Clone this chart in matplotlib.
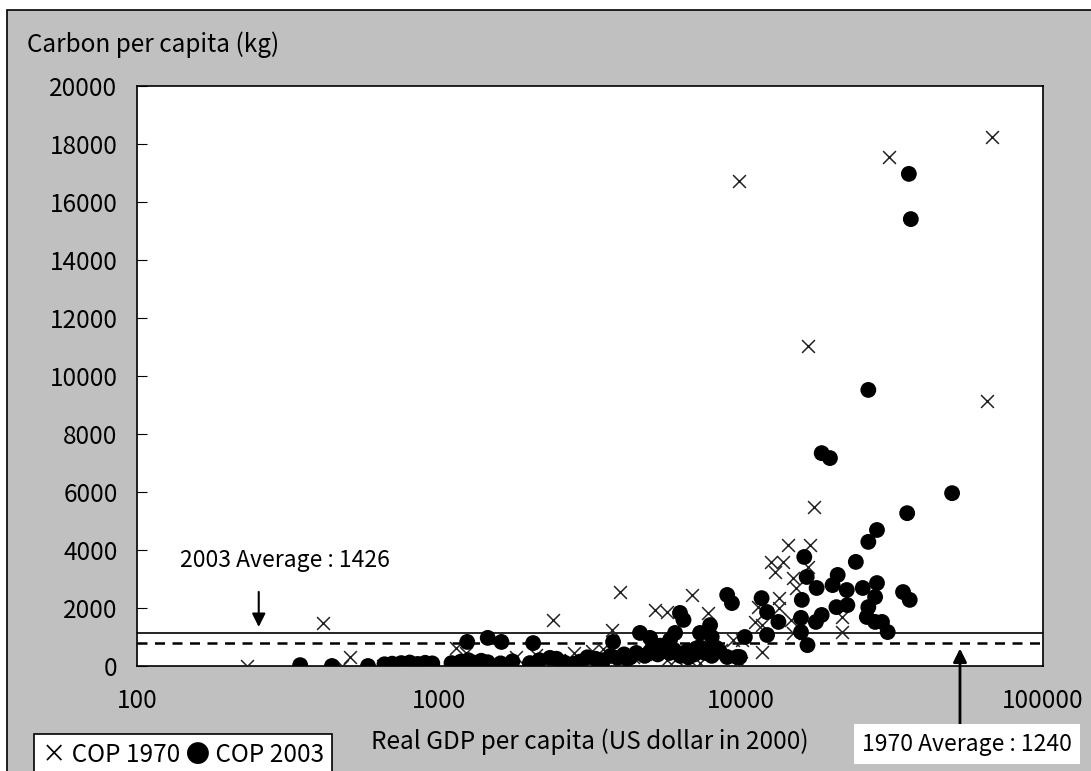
import matplotlib
matplotlib.use('Agg')
import matplotlib.pyplot as plt
from matplotlib.patches import Rectangle

plt.rcParams['font.family'] = ['Noto Sans CJK JP', 'DejaVu Sans']

# COP 1970 (x: real GDP per capita, y: carbon per capita)
gdp_1970 = [231, 413, 477, 507, 653, 1140, 1230, 2380, 3975, 3740, 5200, 5700, 6880,
            7800, 9400, 9840, 16700, 30900, 67800, 65300, 17460, 16900, 14300, 12600,
            13800, 13000, 14900, 16700, 15200, 11400, 13400, 11100, 11700, 14600, 14900,
            21600, 21600, 11700, 13400, 10000, 1800, 2500, 2800, 3200, 4400, 5700, 6800,
            9700, 8000, 10100, 1500, 2100, 3500, 4800, 6100, 7300, 8600, 900, 760]
cop_1970 = [0, 1480, 0, 310, 0, 620, 450, 1590, 2550, 1240, 1930, 1860, 2450,
            1830, 900, 16720, 11030, 17550, 18240, 9140, 5480, 4170, 4170, 3590,
            3590, 3240, 3030, 3410, 2690, 2030, 2340, 1520, 1410, 1590, 1140,
            1690, 1170, 480, 2000, 100, 300, 200, 450, 520, 300, 200, 200,
            0, 700, 900, 150, 380, 600, 420, 250, 100, 550, 80, 120]

# COP 2003
gdp_2003 = [35960, 36500, 26400, 18500, 19700, 50000, 35500, 28200, 26400, 24000,
            16200, 16500, 17800, 20900, 20100, 22400, 25300, 28200, 27800, 26400,
            34400, 36200, 11700, 12200, 13300, 15900, 15800, 18500, 17700, 20700,
            22500, 26100, 27800, 29300, 30600, 15800, 16600, 12200, 10300, 9900,
            9000, 9330, 7900, 6280, 6450, 4630, 5000, 6050, 7316, 8000,
            5820, 7600, 8300, 9000, 9700, 3770, 1240, 1450, 1610, 2050,
            347, 442, 582, 660, 700, 750, 800, 850, 900, 950,
            1100, 1180, 1250, 1300, 1380, 1450, 1600, 1750, 2000, 2150,
            2330, 2450, 2600, 2800, 2930, 3100, 3300, 3500, 3700, 3900,
            4100, 4300, 4500, 4800, 5000, 5300, 5500, 5800, 6000, 6300,
            6600, 7000, 7300, 7600, 8000, 8500, 4200, 5400, 6700, 7100]
cop_2003 = [16970, 15410, 9520, 7340, 7170, 5960, 5270, 4690, 4280, 3590,
            3760, 3070, 2690, 3140, 2790, 2620, 2690, 2860, 2380, 2030,
            2550, 2280, 2340, 1860, 1520, 2280, 1660, 1760, 1520, 2030,
            2100, 1690, 1520, 1520, 1170, 1170, 720, 1070, 1000, 310,
            2450, 2170, 1410, 1830, 1590, 1140, 970, 1140, 1140, 1000,
            900, 550, 620, 310, 310, 830, 830, 970, 830, 790,
            30, 0, 0, 60, 80, 100, 120, 70, 110, 90,
            100, 150, 200, 120, 180, 130, 90, 160, 100, 200,
            280, 250, 120, 80, 150, 300, 250, 200, 350, 280,
            400, 300, 450, 350, 500, 400, 600, 450, 550, 350,
            500, 400, 650, 450, 350, 500, 250, 700, 300, 600]

avg_2003_line = 1150
avg_1970_line = 800

fig = plt.figure(figsize=(10.91, 7.71), dpi=100)
fig.patch.set_facecolor('white')
fig.patches.append(Rectangle((7 / 1091, -0.01), 1.1, 1 - 10 / 771 + 0.01,
                             transform=fig.transFigure, facecolor='#c0c0c0',
                             edgecolor='black', linewidth=1.2, zorder=-5))

ax = fig.add_axes([137 / 1091, 1 - 666 / 771, 906 / 1091, 580 / 771])
ax.set_zorder(1)
ax.set_facecolor('white')
ax.set_xscale('log')
ax.set_xlim(100, 100000)
ax.set_ylim(0, 20000)

ax.scatter(gdp_1970, cop_1970, marker='x', s=85, c='#222222', linewidths=1.1, zorder=3)
ax.scatter(gdp_2003, cop_2003, marker='o', s=130, c='black', edgecolors='none', zorder=4)

ax.axhline(avg_2003_line, color='black', lw=1.2, zorder=2)
ax.axhline(avg_1970_line, color='black', lw=1.8, ls=(0, (4, 3)), zorder=2)

ax.set_yticks(range(0, 20001, 2000))
ax.set_xticks([100, 1000, 10000, 100000])
ax.set_xticklabels(['100', '1000', '10000', '100000'])
ax.minorticks_off()
ax.tick_params(axis='y', direction='in', length=7, labelsize=17.5, pad=14)
ax.tick_params(axis='x', length=0, labelsize=17.5, pad=16)
for s in ax.spines.values():
    s.set_linewidth(1.2)

ax.set_xlabel('Real GDP per capita (US dollar in 2000)', fontsize=17.5, labelpad=10)
fig.text(27 / 1091, 1 - 45 / 771, 'Carbon per capita (kg)', fontsize=17.5, va='center')

ax.text(139, 3650, '2003 Average : 1426', fontsize=16.5, va='center')
ax.annotate('', xy=(253, 1250), xytext=(253, 2650),
            arrowprops=dict(arrowstyle='-|>', color='black', lw=1.5, mutation_scale=20))
ax.annotate('', xy=(53100, 700), xytext=(53100, -2100), annotation_clip=False,
            arrowprops=dict(arrowstyle='-|>', color='black', lw=2, mutation_scale=20))

fig.text(862 / 1091, 1 - 744 / 771, '1970 Average : 1240', fontsize=16.5, va='center',
         bbox=dict(facecolor='white', edgecolor='none', pad=6), zorder=5)
fig.text(42 / 1091, 1 - 755 / 771, '× COP 1970 ● COP 2003', fontsize=17.5, va='center',
         bbox=dict(facecolor='white', edgecolor='black', pad=6, linewidth=1.2), zorder=5)

fig.savefig('out.png', dpi=100, facecolor=fig.get_facecolor())
